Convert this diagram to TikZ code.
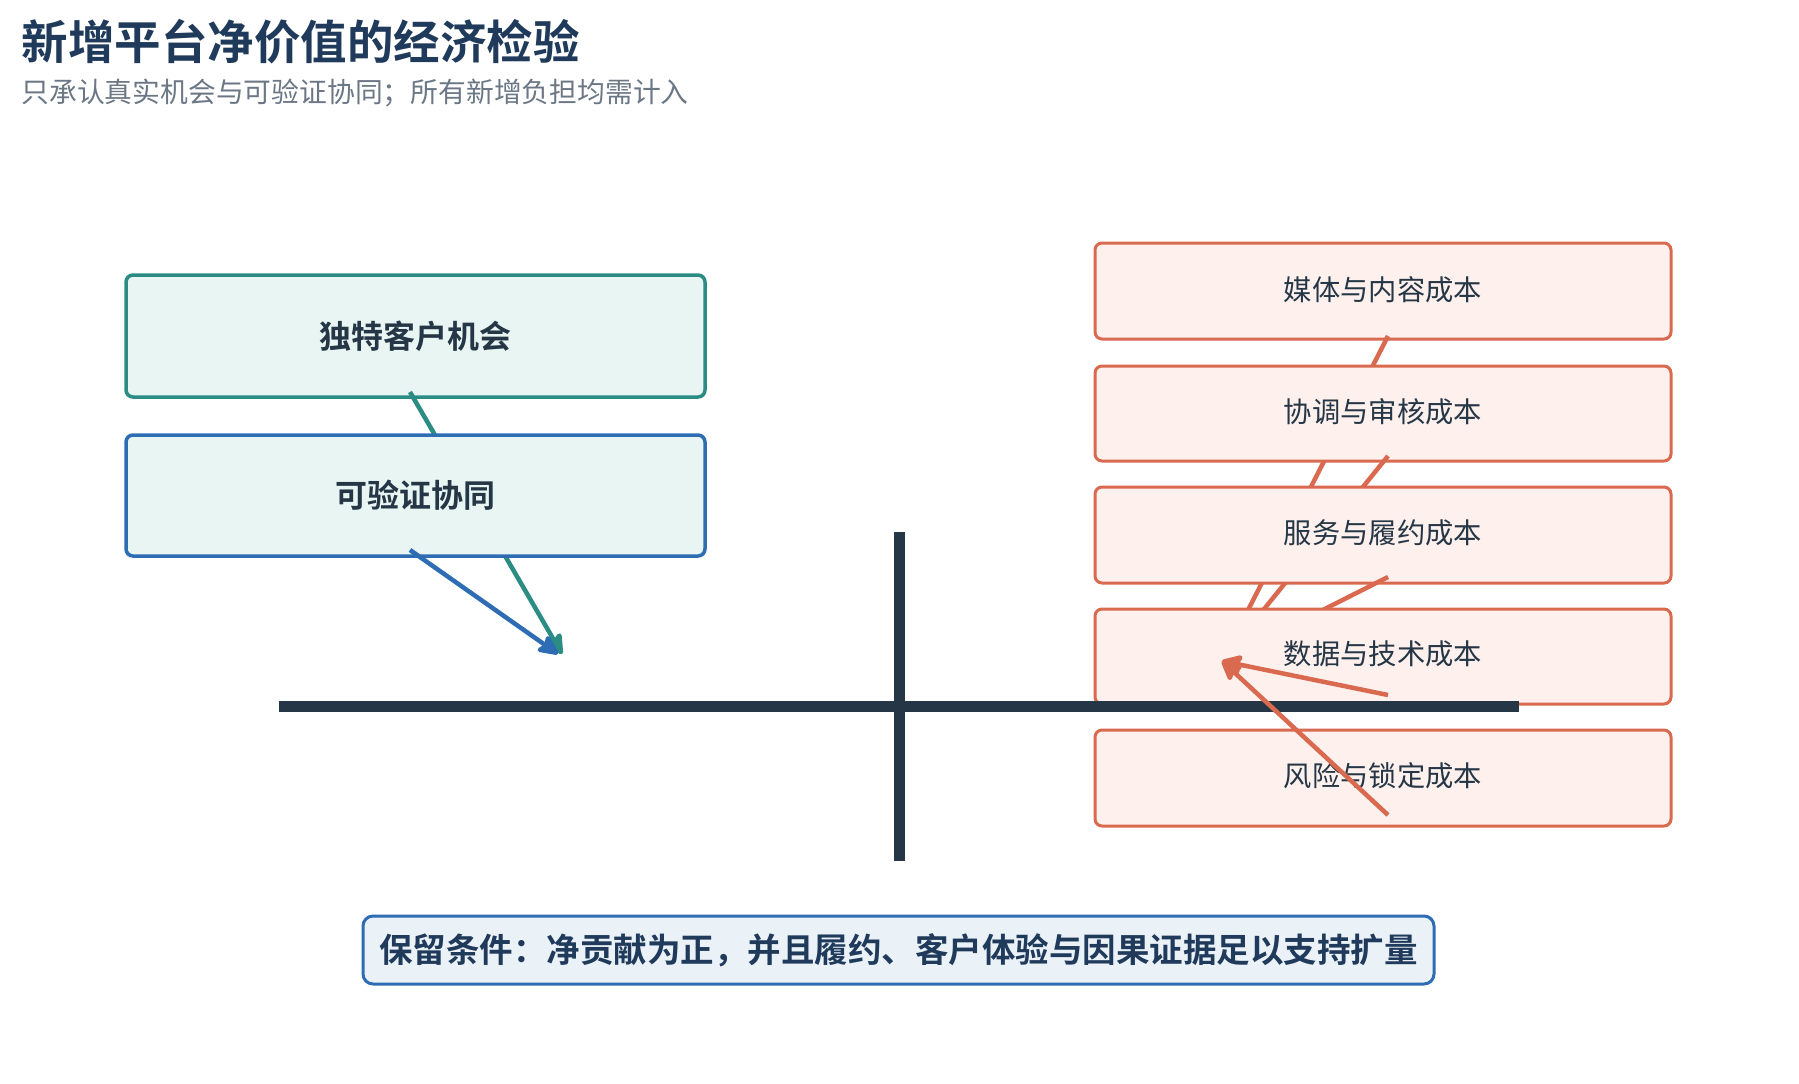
\documentclass[tikz,border=0pt]{standalone}
\usepackage{fontspec}
\setmainfont{Noto Sans CJK SC}
\newfontfamily\cjkb{Noto Sans CJK SC Bold}
\usetikzlibrary{arrows.meta}
\definecolor{teal}{HTML}{2A8C82}\definecolor{tealf}{HTML}{E9F5F2}
\definecolor{blu}{HTML}{2E6DB4}\definecolor{oran}{HTML}{D9694F}
\definecolor{oranf}{HTML}{FEF0ED}\definecolor{dark}{HTML}{253746}
\definecolor{ttl}{HTML}{1F3A5A}\definecolor{sub}{HTML}{6B7785}
\definecolor{botf}{HTML}{EAF1F7}
\begin{document}
\begin{tikzpicture}[x=1pt,y=-1pt,
 lbox/.style={draw=#1,line width=3.5pt,rounded corners=7pt,fill=tealf},
 rbox/.style={draw=oran,line width=3pt,rounded corners=7pt,fill=oranf},
 arr/.style={draw=#1,line width=4.5pt,-{Stealth[length=24pt,width=22pt,inset=4pt,round]}},
 rlab/.style={font=\fontsize{28.3}{31}\selectfont,text=dark},
 llab/.style={font=\cjkb\fontsize{32}{36}\selectfont,text=dark}]
\useasboundingbox (0,0) rectangle (1799,1084);
\node[anchor=west,font=\cjkb\fontsize{46.5}{50}\selectfont,text=ttl] (title) at (18,42) {新增平台净价值的经济检验};
\node[anchor=west,font=\fontsize{27.8}{30}\selectfont,text=sub] (sub) at (18,93) {只承认真实机会与可验证协同；所有新增负担均需计入};
\coordinate (lt) at (562,654);
\coordinate (rt) at (1222,661);
% left
\draw[lbox=teal] (126,275) rectangle (705,397);
\node[llab] (a) at (415,336) {独特客户机会};
\draw[arr=teal] (410,392) -- (lt);
\draw[lbox=blu] (126,435) rectangle (705,556);
\node[llab] (b) at (415,495) {可验证协同};
\draw[arr=blu] (410,550) -- (558,654);
% right
\draw[rbox] (1095,243) rectangle (1671,339);
\node[rlab] (c1) at (1383,290) {媒体与内容成本};
\draw[arr=oran] (1388,336) -- (rt);
\draw[rbox] (1095,366) rectangle (1671,461);
\node[rlab] (c2) at (1383,412) {协调与审核成本};
\draw[arr=oran] (1388,456) -- (rt);
\draw[rbox] (1095,487) rectangle (1671,583);
\node[rlab] (c3) at (1383,533) {服务与履约成本};
\draw[arr=oran] (1388,577) -- (rt);
\draw[rbox] (1095,609) rectangle (1671,704);
\node[rlab] (c4) at (1383,654) {数据与技术成本};
% spine
\draw[dark,line width=11pt] (279,706) -- (1519,706);
\draw[dark,line width=11pt] (899,532) -- (899,861);
\draw[arr=oran] (1388,695) -- (rt);
\draw[rbox] (1095,730) rectangle (1671,826);
\node[rlab] (c5) at (1383,776) {风险与锁定成本};
\draw[arr=oran] (1388,815) -- (rt);
% bottom
\node[draw=blu,line width=3pt,rounded corners=10pt,fill=botf,minimum width=1071pt,minimum height=68pt,font=\cjkb\fontsize{33.5}{36}\selectfont,text=ttl] (bot) at (898.5,950) {保留条件：净贡献为正，并且履约、客户体验与因果证据足以支持扩量};
\end{tikzpicture}
\end{document}
